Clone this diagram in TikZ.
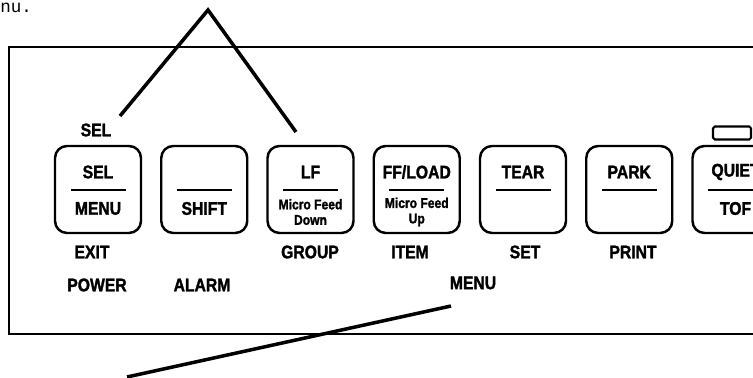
\documentclass[tikz,border=0pt]{standalone}
\usepackage{fontspec}
\setmainfont{Liberation Sans}
\newfontfamily\notefont{Liberation Mono}
\newfontfamily\panelfont[FakeStretch=0.86, FakeBold=1.6]{Liberation Sans Bold}
\usetikzlibrary{positioning,calc}
\tikzset{
  panelline/.style={line width=1.7pt},
  keybox/.style={draw, rounded corners=0.24cm, line width=1.4pt, minimum width=1.72cm, minimum height=1.74cm},
  keybar/.style={line width=1.4pt},
  pointer/.style={line width=2pt},
  keytext/.style={font=\panelfont\fontsize{10.4}{11}\selectfont, inner sep=0pt},
  smalltext/.style={font=\panelfont\fontsize{8}{8.8}\selectfont, inner sep=0pt, align=center},
  ledbox/.style={draw, rounded corners=1pt, line width=1.2pt, minimum width=0.76cm, minimum height=0.26cm}
}

\begin{document}
\begin{tikzpicture}
  \useasboundingbox[fill=white] (0,0) rectangle (15.06,7.56);
  \clip (0,0) rectangle (15.06,7.56);
  \node[font=\notefont\fontsize{10}{11}\selectfont, anchor=west, inner sep=0pt] (notetail) at (0,7.40) {nu.};
  % panel outline
  \draw[panelline] (0.18,0.88) rectangle (15.5,6.62);
  % keys
  \node[keybox] (ksel) at (1.96,3.77) {};
  \node[keybox] (kshift) at (4.085,3.77) {};
  \node[keybox] (klf) at (6.21,3.77) {};
  \node[keybox] (kff) at (8.335,3.77) {};
  \node[keybox] (ktear) at (10.46,3.77) {};
  \node[keybox] (kpark) at (12.585,3.77) {};
  \node[keybox] (kquiet) at (14.71,3.77) {};
  \foreach \k in {ksel,kshift,klf,kff,ktear,kpark,kquiet}
    \draw[keybar] ($(\k)+(-0.55,-0.01)$) -- ($(\k)+(0.55,-0.01)$);
  \node[ledbox] (led) at (14.64,4.90) {};
  % key faces
  \node[keytext] (selup) at (1.96,4.12) {SEL};
  \node[keytext] (seldn) at (1.96,3.39) {MENU};
  \node[keytext] (shiftdn) at (4.085,3.39) {SHIFT};
  \node[keytext] (lfup) at (6.21,4.12) {LF};
  \node[smalltext] (lfdn) at (6.21,3.32) {Micro Feed\\Down};
  \node[keytext] (ffup) at (8.335,4.12) {FF/LOAD};
  \node[smalltext] (ffdn) at (8.335,3.32) {Micro Feed\\Up};
  \node[keytext] (tearup) at (10.46,4.12) {TEAR};
  \node[keytext] (parkup) at (12.585,4.12) {PARK};
  \node[keytext] (quietup) at (14.71,4.12) {QUIET};
  \node[keytext] (quietdn) at (14.71,3.39) {TOF};
  % labels round the keys
  \node[keytext] (selabove) at (1.92,4.96) {SEL};
  \node[keytext] (exit) at (1.84,2.52) {EXIT};
  \node[keytext] (power) at (1.94,1.86) {POWER};
  \node[keytext] (alarm) at (4.04,1.86) {ALARM};
  \node[keytext] (group) at (6.20,2.52) {GROUP};
  \node[keytext] (item) at (8.20,2.52) {ITEM};
  \node[keytext] (set) at (10.50,2.52) {SET};
  \node[keytext] (print) at (12.66,2.52) {PRINT};
  \node[keytext] (menu) at (9.46,1.90) {MENU};
  % pointers
  \coordinate (apex) at (4.16,7.36);
  \coordinate (selend) at (2.40,5.24);
  \coordinate (lfend) at (5.92,4.92);
  \coordinate (menuend) at (9.02,1.44);
  \coordinate (menutail) at (2.54,0.02);
  \draw[pointer] (selend) -- (apex) -- (lfend);
  \draw[pointer] (menuend) -- (menutail);
\end{tikzpicture}
\end{document}
